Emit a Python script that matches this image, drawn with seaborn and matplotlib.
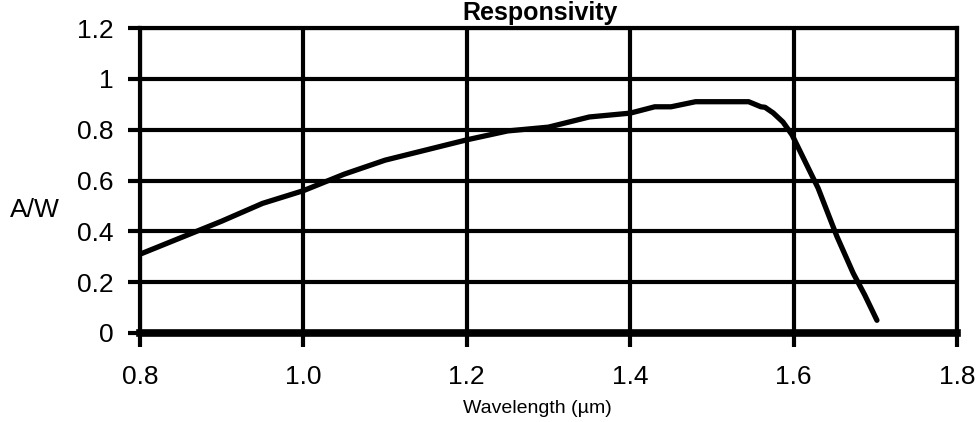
import matplotlib
matplotlib.use("Agg")
import matplotlib.pyplot as plt
import seaborn as sns
import pandas as pd

# Data
wavelength = [0.80, 0.90, 0.95, 1.00, 1.05, 1.10, 1.15, 1.20, 1.25, 1.30,
              1.35, 1.40, 1.43, 1.45, 1.48, 1.545, 1.56, 1.565, 1.575,
              1.587, 1.598, 1.63, 1.653, 1.673, 1.687, 1.702]
responsivity = [0.31, 0.44, 0.51, 0.56, 0.625, 0.68, 0.72, 0.76, 0.795, 0.81,
                0.85, 0.865, 0.89, 0.89, 0.91, 0.91, 0.89, 0.888, 0.866,
                0.83, 0.78, 0.57, 0.38, 0.235, 0.15, 0.05]
x_ticks = [0.8, 1.0, 1.2, 1.4, 1.6, 1.8]
x_tick_labels = ["0.8", "1.0", "1.2", "1.4", "1.6", "1.8"]
y_ticks = [0, 0.2, 0.4, 0.6, 0.8, 1.0, 1.2]
y_tick_labels = ["0", "0.2", "0.4", "0.6", "0.8", "1", "1.2"]

sns.set_style("white")
plt.rcParams["font.family"] = ["Liberation Sans", "DejaVu Sans"]
plt.rcParams["text.color"] = "black"
plt.rcParams["xtick.color"] = "black"
plt.rcParams["ytick.color"] = "black"

df = pd.DataFrame({"wavelength": wavelength, "responsivity": responsivity})

fig = plt.figure(figsize=(9.79, 4.22), dpi=100)
ax = fig.add_axes([140 / 979, 1 - 333 / 422, (957 - 140) / 979, (333 - 28) / 422])

sns.lineplot(data=df, x="wavelength", y="responsivity", ax=ax, color="black",
             linewidth=3.8, sort=False, estimator=None, zorder=5)

ax.set_xlim(0.8, 1.8)
ax.set_ylim(0, 1.2)
ax.set_xticks(x_ticks)
ax.set_xticklabels(x_tick_labels)
ax.set_yticks(y_ticks)
ax.set_yticklabels(y_tick_labels)
ax.set_xlabel("")
ax.set_ylabel("")

ax.grid(True, color="black", linewidth=3, zorder=1)
ax.set_axisbelow(True)
for side in ["left", "right", "top"]:
    ax.spines[side].set_visible(True)
    ax.spines[side].set_color("black")
    ax.spines[side].set_linewidth(3)
ax.spines["bottom"].set_color("black")
ax.spines["bottom"].set_linewidth(5.5)

ax.tick_params(axis="x", direction="out", length=10, width=3, color="black",
               labelcolor="black", pad=13, labelsize=19, bottom=True)
ax.tick_params(axis="y", direction="out", length=9, width=3, color="black",
               labelcolor="black", pad=10, labelsize=19, left=True)

fig.text(540 / 979, 1 - 20 / 422, "Responsivity", ha="center", va="baseline",
         fontsize=18, fontweight="bold", color="black")
fig.text(10 / 979, 1 - 217 / 422, "A/W", ha="left", va="baseline", fontsize=19,
         color="black")
fig.text(537 / 979, 1 - 413 / 422, "Wavelength (µm)", ha="center",
         va="baseline", fontsize=14, color="black")

fig.savefig("out.png", dpi=100)
